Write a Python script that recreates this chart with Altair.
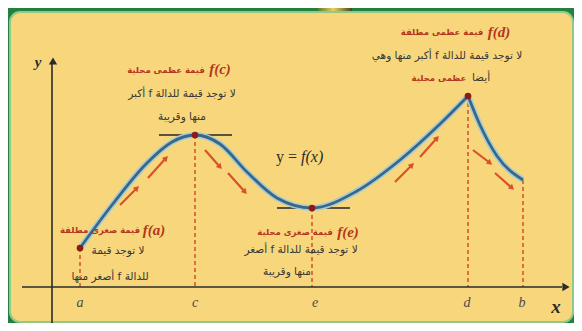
import math
import altair as alt
import pandas as pd

# ---------------- data (x-axis at y=0, y-axis at x=0) ----------------
curve_left_x = [2.8, 6.0, 9.5, 12.0, 14.3, 16.8, 19.5, 22.5, 26.0, 30.5, 34.8, 38.8, 41.6]
curve_left_y = [3.9, 8.2, 12.4, 14.5, 15.2, 14.3, 11.5, 8.9, 7.9, 9.6, 12.7, 16.3, 19.1]
curve_right_x = [41.6, 42.8, 44.5, 47.1]
curve_right_y = [19.1, 16.2, 13.1, 10.7]

crit_names = ["a", "c", "e", "d", "b"]
crit_x = [2.8, 14.3, 26.0, 41.6, 47.1]
crit_y = [3.9, 15.2, 7.9, 19.1, 10.7]
dot_names = ["a", "c", "e", "d"]

tick_labels = ["a", "c", "e", "d", "b"]
tick_x = [2.8, 14.3, 26.3, 41.5, 47.0]

tangent_x1 = [10.7, 22.5]
tangent_x2 = [18.0, 29.8]
tangent_y = [15.2, 7.9]

arrow_x1 = [6.8, 9.6, 15.3, 17.6, 34.3, 36.8, 42.1, 44.3]
arrow_y1 = [8.2, 10.9, 13.7, 11.4, 10.5, 13.0, 13.7, 11.4]
arrow_x2 = [8.5, 11.4, 16.8, 19.3, 36.0, 38.5, 43.8, 46.0]
arrow_y2 = [9.9, 12.9, 12.0, 9.5, 12.2, 14.9, 12.4, 9.9]

head_texts = ["قيمة عظمى محلية", "قيمة عظمى مطلقة", "قيمة صغرى مطلقة", "قيمة صغرى محلية", "عظمى محلية"]
head_x = [11.4, 39.0, 4.8, 24.3, 38.7]
head_y = [21.7, 25.5, 5.7, 5.5, 20.9]

f_texts = ["f(c)", "f(d)", "f(a)", "f(e)"]
f_x = [16.8, 44.7, 10.2, 29.6]
f_y = [21.8, 25.5, 5.7, 5.5]

body_texts = ["لا توجد قيمة للدالة f أكبر", "منها وقريبة",
              "لا توجد قيمة للدالة f أكبر منها وهي",
              "لا توجد قيمة", "للدالة f أصغر منها",
              "لا توجد قيمة للدالة f أصغر", "منها وقريبة",
              "أيضا"]
body_x = [13.0, 13.0, 39.5, 6.6, 5.8, 24.9, 23.5, 42.9]
body_y = [19.3, 17.0, 23.1, 3.6, 1.0, 3.7, 1.5, 20.9]

# ---------------- styles ----------------
RED = "#B4361D"
DARK = "#363636"
xs = alt.Scale(domain=[-4.4, 52.2], nice=False, zero=False)
ys = alt.Scale(domain=[-3.6, 27.9], nice=False, zero=False)


def rtl(s):
    return "\u202b" + s + "\u202c"


def X(f):
    return alt.X(f, type="quantitative", scale=xs, axis=None)


def Y(f):
    return alt.Y(f, type="quantitative", scale=ys, axis=None)


one = pd.DataFrame({"k": [0]})

panel = alt.Chart(one).mark_rect(fill="#F8D77C", stroke="#8FCB86", strokeWidth=2, cornerRadius=10).encode(
    x=alt.value(2), x2=alt.value(565), y=alt.value(4), y2=alt.value(314))

tab = alt.Chart(one).mark_rect(
    fill=alt.LinearGradient(gradient="linear", x1=0, x2=1, y1=0, y2=0,
                            stops=[alt.GradientStop(offset=0, color="#5E7A2A"),
                                   alt.GradientStop(offset=0.45, color="#E8D060"),
                                   alt.GradientStop(offset=1, color="#3E4A1E")])).encode(
    x=alt.value(310), x2=alt.value(344), y=alt.value(0), y2=alt.value(3))

crit = pd.DataFrame({"name": crit_names, "x": crit_x, "y": crit_y, "y0": [0.0] * len(crit_x)})
dashed = alt.Chart(crit).mark_rule(color="#D9562E", strokeWidth=1.6, strokeDash=[4, 3]).encode(
    x=X("x"), y=Y("y"), y2="y0")

axes_df = pd.DataFrame({"x1": [-3.0, 0.0], "x2": [51.0, 0.0], "y1": [0.0, -3.6], "y2": [0.0, 22.3]})
axes_lines = alt.Chart(axes_df).mark_rule(color="#2B2B2B", strokeWidth=1.6).encode(
    x=X("x1"), x2="x2", y=Y("y1"), y2="y2")
ax_heads = pd.DataFrame({"x": [51.4, 0.1], "y": [0.0, 22.6], "shape": ["triangle-right", "triangle-up"]})
axes_heads = alt.Chart(ax_heads).mark_point(filled=True, color="#2B2B2B", size=70, opacity=1).encode(
    x=X("x"), y=Y("y"), shape=alt.Shape("shape:N", scale=None))

tan_df = pd.DataFrame({"x1": tangent_x1, "x2": tangent_x2, "y": tangent_y})
tangents = alt.Chart(tan_df).mark_rule(color="#262626", strokeWidth=1.6).encode(
    x=X("x1"), x2="x2", y=Y("y"))

curve = pd.concat([
    pd.DataFrame({"x": curve_left_x, "y": curve_left_y, "piece": "left", "o": range(len(curve_left_x))}),
    pd.DataFrame({"x": curve_right_x, "y": curve_right_y, "piece": "right", "o": range(len(curve_right_x))}),
])
halo = alt.Chart(curve).mark_line(color="#A3CCD6", strokeWidth=6, interpolate="monotone").encode(
    x=X("x"), y=Y("y"), detail="piece:N", order="o:Q")
core = alt.Chart(curve).mark_line(color="#3B6686", strokeWidth=2.8, interpolate="monotone").encode(
    x=X("x"), y=Y("y"), detail="piece:N", order="o:Q")

dots = alt.Chart(crit[crit["name"].isin(dot_names)]).mark_circle(color="#8C1B17", size=45, opacity=1).encode(
    x=X("x"), y=Y("y"))

arr = pd.DataFrame({"x1": arrow_x1, "y1": arrow_y1, "x2": arrow_x2, "y2": arrow_y2})
arr["ang"] = [math.degrees(math.atan2(b - a, d - c)) % 360
              for a, b, c, d in zip(arr["x1"], arr["x2"], arr["y1"], arr["y2"])]
arrow_lines = alt.Chart(arr).mark_rule(color="#D9502B", strokeWidth=2.2).encode(
    x=X("x1"), x2="x2", y=Y("y1"), y2="y2")
arrow_heads = alt.Chart(arr).mark_point(shape="triangle-up", filled=True, color="#D9502B", size=40, opacity=1).encode(
    x=X("x2"), y=Y("y2"), angle=alt.Angle("ang:Q", scale=None))

ticks = alt.Chart(pd.DataFrame({"t": tick_labels, "x": tick_x, "y": [-1.6] * len(tick_x)})).mark_text(
    font="Liberation Serif", fontStyle="italic", fontSize=14, color="#4A4A4A").encode(
    x=X("x"), y=Y("y"), text="t:N")

axis_names = alt.Chart(pd.DataFrame({"t": ["x", "y"], "x": [50.4, -1.4], "y": [-2.0, 22.5],
                                     "s": [19, 15]})).mark_text(
    font="Liberation Serif", fontStyle="italic", fontWeight="bold", color="#2B2B2B").encode(
    x=X("x"), y=Y("y"), text="t:N", size=alt.Size("s:Q", scale=None))

eq_y = alt.Chart(pd.DataFrame({"t": ["y ="], "x": [24.5], "y": [13.0]})).mark_text(
    font="Liberation Serif", fontSize=16, color="#2B2B2B", align="right").encode(
    x=X("x"), y=Y("y"), text="t:N")
eq_f = alt.Chart(pd.DataFrame({"t": ["f(x)"], "x": [24.9], "y": [13.0]})).mark_text(
    font="Liberation Serif", fontStyle="italic", fontSize=16, color="#2B2B2B", align="left").encode(
    x=X("x"), y=Y("y"), text="t:N")

heads = alt.Chart(pd.DataFrame({"t": [rtl(s) for s in head_texts], "x": head_x, "y": head_y})).mark_text(
    font="DejaVu Sans", fontSize=8.5, fontWeight="bold", color=RED, align="center").encode(
    x=X("x"), y=Y("y"), text="t:N")
fs = alt.Chart(pd.DataFrame({"t": f_texts, "x": f_x, "y": f_y})).mark_text(
    font="Liberation Serif", fontStyle="italic", fontWeight="bold", fontSize=15, color=RED, align="center").encode(
    x=X("x"), y=Y("y"), text="t:N")
body = alt.Chart(pd.DataFrame({"t": [rtl(s) for s in body_texts], "x": body_x, "y": body_y})).mark_text(
    font="DejaVu Sans", fontSize=10.5, color=DARK, align="center").encode(
    x=X("x"), y=Y("y"), text="t:N")

chart = alt.layer(
    panel, tab, dashed, axes_lines, axes_heads, tangents, halo, core, dots,
    arrow_lines, arrow_heads, ticks, axis_names, eq_y, eq_f, heads, fs, body
).properties(
    width=566, height=315, padding=0,
    autosize=alt.AutoSizeParams(type="none"),
    background="#23803F",
).configure_view(strokeWidth=0)

chart.save("out.html", embed_options={"renderer": "svg", "actions": False})
